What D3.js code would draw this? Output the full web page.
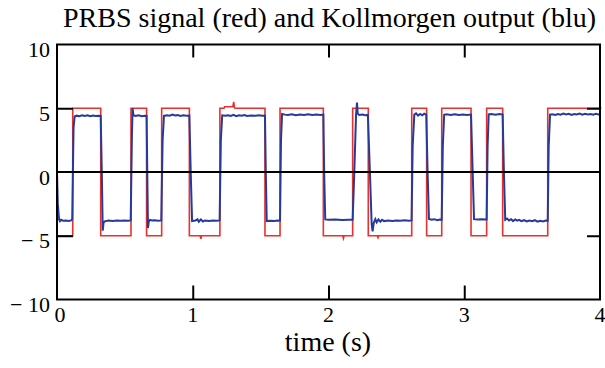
<!DOCTYPE html>
<html>
<head>
<meta charset="utf-8">
<script src="https://cdnjs.cloudflare.com/ajax/libs/d3/7.8.5/d3.min.js"></script>
<style>
    body { margin: 0; background: #ffffff; }
    svg { display: block; font-family: "Liberation Serif", "Times New Roman", serif; }
</style>
</head>
<body>
<svg id="chart"></svg>
<script>
//axis tick values and labels
var xTicks = [0, 1, 2, 3, 4];
var yTicks = [-10, -5, 0, 5, 10];
var yTickLabels = ["\u2212 10", "\u2212 5", "0", "5", "10"];

//PRBS input (red) as [time, volts]
var redSignal = [[0,-5],[0.116,-5],[0.116,5],[0.322,5],[0.322,-5],[0.545,-5],[0.545,5],[0.66,5],[0.66,-5],
    [0.771,-5],[0.771,5],[0.975,5],[0.975,-5],[1.055,-5],[1.06,-5.25],[1.065,-5],[1.2,-5],[1.2,5],[1.23,5],
    [1.235,5.12],[1.295,5.12],[1.302,5.5],[1.307,5.05],[1.312,5],[1.532,5],[1.532,-5],[1.643,-5],[1.643,5],
    [1.962,5],[1.962,-5],[2.105,-5],[2.11,-5.2],[2.115,-5],[2.178,-5],[2.178,5],[2.293,5],[2.293,-5],
    [2.36,-5],[2.365,-5.15],[2.37,-5],[2.613,-5],[2.613,5],[2.723,5],[2.723,-5],[2.834,-5],[2.834,5],
    [3.05,5],[3.05,-5],[3.165,-5],[3.165,5],[3.283,5],[3.283,-5],[3.615,-5],[3.615,5],[4.01,5]];

//Kollmorgen output (blue) as [time, volts]
var blueOutput = [[0,0],[0.006,-2.5],[0.015,-3.7],[0.022,-3.85],[0.03,-3.75],[0.045,-3.82],[0.065,-3.8],
    [0.085,-3.84],[0.105,-3.8],[0.112,-3.7],
    [0.122,3.5],[0.13,4.35],[0.145,4.42],[0.165,4.38],[0.185,4.45],[0.205,4.4],[0.225,4.44],[0.245,4.38],
    [0.265,4.43],[0.285,4.4],[0.305,4.42],[0.322,4.4],
    [0.33,0],[0.337,-4.6],[0.343,-3.95],[0.355,-3.85],[0.38,-3.8],[0.41,-3.84],[0.44,-3.8],[0.47,-3.83],
    [0.5,-3.8],[0.525,-3.82],[0.543,-3.8],
    [0.552,3],[0.557,5.0],[0.563,4.45],[0.58,4.4],[0.6,4.45],[0.625,4.38],[0.645,4.42],[0.66,4.4],
    [0.665,0],[0.67,-4.4],[0.676,-3.9],[0.685,-3.75],[0.7,-3.8],[0.72,-3.78],[0.745,-3.82],[0.768,-3.8],
    [0.778,2.5],[0.788,4.4],[0.81,4.45],[0.83,4.42],[0.85,4.5],[0.87,4.43],[0.89,4.46],[0.91,4.4],
    [0.93,4.45],[0.955,4.42],[0.975,4.43],
    [0.985,0],[0.995,-3.85],[1.02,-3.8],[1.035,-3.72],[1.045,-3.9],[1.06,-3.72],[1.075,-3.88],[1.09,-3.8],
    [1.12,-3.84],[1.15,-3.8],[1.175,-3.82],[1.198,-3.8],
    [1.207,2.5],[1.217,4.45],[1.24,4.42],[1.26,4.45],[1.28,4.4],[1.3,4.48],[1.32,4.38],[1.34,4.45],
    [1.36,4.42],[1.38,4.46],[1.4,4.4],[1.43,4.44],[1.46,4.41],[1.49,4.45],[1.51,4.42],[1.532,4.43],
    [1.538,0],[1.545,-3.85],[1.57,-3.82],[1.6,-3.85],[1.625,-3.8],[1.643,-3.82],
    [1.65,2.5],[1.658,4.55],[1.68,4.5],[1.7,4.48],[1.73,4.52],[1.76,4.46],[1.79,4.5],[1.82,4.47],
    [1.85,4.52],[1.88,4.48],[1.91,4.5],[1.94,4.47],[1.962,4.5],
    [1.968,0],[1.976,-3.72],[2.0,-3.75],[2.05,-3.72],[2.1,-3.76],[2.15,-3.74],[2.178,-3.74],
    [2.19,0],[2.203,4.5],[2.21,5.45],[2.215,4.6],[2.225,4.48],[2.25,4.5],[2.27,4.46],[2.29,4.48],
    [2.305,0],[2.318,-4.1],[2.325,-4.65],[2.333,-4.0],[2.345,-3.7],[2.355,-3.95],[2.368,-3.72],[2.382,-3.9],
    [2.395,-3.75],[2.41,-3.85],[2.44,-3.8],[2.47,-3.84],[2.5,-3.8],[2.53,-3.82],[2.56,-3.78],[2.59,-3.82],
    [2.612,-3.8],
    [2.62,2],[2.632,4.5],[2.645,4.6],[2.66,4.42],[2.675,4.55],[2.69,4.45],[2.705,4.58],[2.72,4.5],
    [2.73,0],[2.74,-3.68],[2.76,-3.75],[2.78,-3.7],[2.8,-3.78],[2.82,-3.72],[2.834,-3.75],
    [2.842,2],[2.852,4.48],[2.87,4.52],[2.9,4.47],[2.93,4.52],[2.96,4.48],[2.99,4.5],[3.02,4.47],[3.05,4.5],
    [3.062,0],[3.072,-3.7],[3.1,-3.72],[3.13,-3.7],[3.165,-3.72],
    [3.172,2],[3.18,4.52],[3.2,4.55],[3.23,4.5],[3.26,4.55],[3.283,4.5],
    [3.292,0],[3.302,-3.75],[3.315,-3.65],[3.33,-3.8],[3.345,-3.7],[3.36,-3.85],[3.375,-3.72],[3.39,-3.82],
    [3.405,-3.75],[3.42,-3.85],[3.44,-3.78],[3.46,-3.88],[3.48,-3.8],[3.5,-3.86],[3.52,-3.78],[3.54,-3.9],
    [3.56,-3.82],[3.58,-3.88],[3.6,-3.8],[3.615,-3.82],
    [3.622,2],[3.632,4.5],[3.65,4.52],[3.67,4.48],[3.69,4.55],[3.71,4.5],[3.73,4.58],[3.75,4.52],
    [3.77,4.56],[3.79,4.48],[3.81,4.55],[3.83,4.52],[3.85,4.58],[3.87,4.5],[3.89,4.56],[3.91,4.52],
    [3.93,4.55],[3.95,4.5],[3.97,4.56],[3.99,4.52],[4.0,4.54]];

function runScript () {

    //size of the whole picture
    var width = 605;
    var height = 368;

    //plot box edges in pixels
    var plotLeft = 57;
    var plotRight = 600;
    var plotTop = 44.5;
    var plotBottom = 299.5;

    var svg = d3.select("#chart")
        .attr("width", width)
        .attr("height", height);

    svg.append("rect")
        .attr("width", width)
        .attr("height", height)
        .style("fill", "#ffffff");

    var xScale = d3.scaleLinear().domain([0, 4]).range([plotLeft, plotRight]);
    var yScale = d3.scaleLinear().domain([-10, 10]).range([plotBottom, plotTop]);

    //title
    svg.append("text")
        .attr("x", (plotLeft + plotRight) / 2 + 1)
        .attr("y", 27)
        .attr("text-anchor", "middle")
        .style("font-size", "28px")
        .text("PRBS signal (red) and Kollmorgen output (blu)");

    //the two traces
    var line = d3.line()
        .x(function (d) { return xScale(d[0]); })
        .y(function (d) { return yScale(d[1]); });

    svg.append("path")
        .datum(redSignal)
        .attr("d", line)
        .style("fill", "none")
        .style("stroke", "#e8302c")
        .style("stroke-width", 1.6);

    svg.append("path")
        .datum(blueOutput)
        .attr("d", line)
        .style("fill", "none")
        .style("stroke", "#263a9c")
        .style("stroke-width", 2);

    //zero line
    svg.append("line")
        .attr("x1", plotLeft)
        .attr("x2", plotRight)
        .attr("y1", yScale(0))
        .attr("y2", yScale(0))
        .style("stroke", "#000")
        .style("stroke-width", 2);

    //inner ticks on all four sides, no labels
    var tickStyle = function (g) {
        g.select(".domain").remove();
        g.selectAll(".tick line").style("stroke", "#000").style("stroke-width", 2);
        g.selectAll(".tick text").remove();
    };

    svg.append("g")
        .attr("transform", "translate(0," + plotTop + ")")
        .call(d3.axisBottom(xScale).tickValues([1, 2, 3]).tickSize(13))
        .call(tickStyle);

    svg.append("g")
        .attr("transform", "translate(0," + plotBottom + ")")
        .call(d3.axisTop(xScale).tickValues([1, 2, 3]).tickSize(14))
        .call(tickStyle);

    svg.append("g")
        .attr("transform", "translate(" + plotLeft + ",0)")
        .call(d3.axisRight(yScale).tickValues([-5, 5]).tickSize(16))
        .call(tickStyle);

    svg.append("g")
        .attr("transform", "translate(" + plotRight + ",0)")
        .call(d3.axisLeft(yScale).tickValues([-5, 5]).tickSize(13))
        .call(tickStyle);

    //frame
    svg.append("rect")
        .attr("x", plotLeft)
        .attr("y", plotTop)
        .attr("width", plotRight - plotLeft)
        .attr("height", plotBottom - plotTop)
        .style("fill", "none")
        .style("stroke", "#000")
        .style("stroke-width", 2);

    //tick labels
    svg.selectAll(".xLabel")
        .data(xTicks)
        .enter()
        .append("text")
        .attr("class", "xLabel")
        .attr("x", function (d) { return xScale(d) + (d == 0 ? 3 : 0); })
        .attr("y", plotBottom + 22.5)
        .attr("text-anchor", "middle")
        .style("font-size", "22px")
        .text(function (d) { return d; });

    svg.selectAll(".yLabel")
        .data(yTicks)
        .enter()
        .append("text")
        .attr("class", "yLabel")
        .attr("x", 50)
        .attr("y", function (d) { return yScale(d) + 12.5; })
        .attr("text-anchor", "end")
        .style("font-size", "22px")
        .text(function (d, i) { return yTickLabels[i]; });

    //axis title
    svg.append("text")
        .attr("x", 328)
        .attr("y", 351)
        .attr("text-anchor", "middle")
        .style("font-size", "28px")
        .text("time (s)");
}

window.onload = runScript;
</script>
</body>
</html>
